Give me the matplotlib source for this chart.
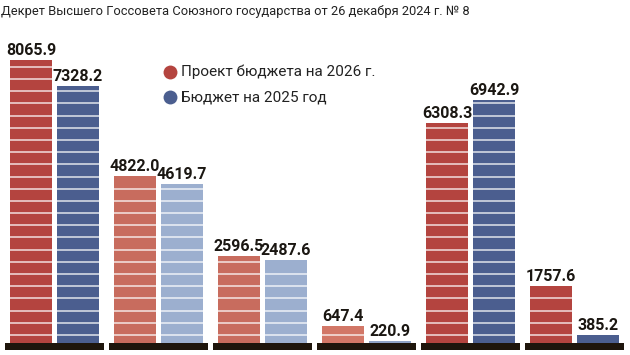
import numpy as np
import matplotlib.pyplot as plt
from matplotlib.lines import Line2D

# data
proj_2026 = [8065.9, 4822.0, 2596.5, 647.4, 6308.3, 1757.6]
budget_2025 = [7328.2, 4619.7, 2487.6, 220.9, 6942.9, 385.2]
labels = ['Проект бюджета на 2026 г.', 'Бюджет на 2025 год']
title = 'Декрет Высшего Госсовета Союзного государства от 26 декабря 2024 г. № 8'

# colours per group (dark / light variants)
red_cols = ['#b4443f', '#c86c5e', '#c86c5e', '#d27767', '#b4443f', '#b4443f']
blue_cols = ['#4b5e8f', '#9cafcf', '#9cafcf', '#8fa3c6', '#4b5e8f', '#4b5e8f']

plt.rcParams['font.family'] = ['Roboto', 'DejaVu Sans']

W, H = 630, 355
fig = plt.figure(figsize=(W/100, H/100), dpi=100)
ax = fig.add_axes([0, 4/H, 1, 1 - 4/H])

s = 0.03586            # px per unit
y0 = -50
ylim_top = y0 + (H - 4)/s
ax.set_ylim(y0, ylim_top)
ax.set_xlim(-54.5/104, -54.5/104 + W/104)
ax.axis('off')

x = np.arange(len(proj_2026))
bw = 42/104
off = 23.5/104
ax.bar(x - off, proj_2026, bw, color=red_cols, zorder=2)
ax.bar(x + off, budget_2025, bw, color=blue_cols, zorder=2)

# white stripes across bars
step = 340
for xs, vals in [(x - off, proj_2026), (x + off, budget_2025)]:
    for xc, v in zip(xs, vals):
        ys = np.arange(56, v - 60, step)
        ax.hlines(ys, xc - bw/2, xc + bw/2, colors='white', lw=1.3, alpha=0.7, zorder=3)
        ax.text(xc, v + 2/s, f'{v:.1f}', ha='center', va='bottom', fontsize=11.5,
                fontweight='bold', color='#1b1712', zorder=5)

# black bases
ax.bar(x, 7/s, 99/104, bottom=y0 + 1/s, color='#1e150c', zorder=4)

# legend
for i, (lab, c) in enumerate(zip(labels, [red_cols[0], blue_cols[0]])):
    yy = 1 - (72 + 25*i)/H
    fig.add_artist(Line2D([170/W], [yy], marker='o', ms=10, color=c, mec='none'))
    fig.text(181/W, yy, lab, fontsize=11, va='center', ha='left', color='#222222')

fig.text(1/W, 1 - 12/H, title, fontsize=9.3, va='center', ha='left', color='#222222')

fig.savefig('out.png', dpi=100)
